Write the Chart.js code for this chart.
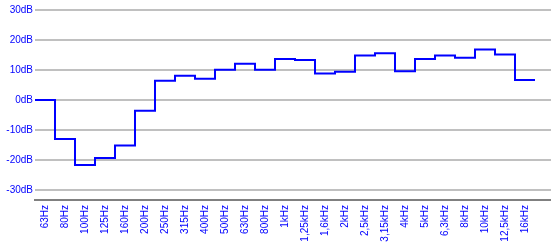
<!DOCTYPE html>
<html>
<head>
<meta charset="utf-8">
<script src="https://cdn.jsdelivr.net/npm/chart.js@4"></script>
<style>
  html, body { margin: 0; padding: 0; background: #fff; }
  .wrap { width: 551px; height: 242px; }
</style>
</head>
<body>
<div class="wrap"><canvas id="eq" width="551" height="242"></canvas></div>
<script>
  // third-octave bands
  var bands = ["63Hz", "80Hz", "100Hz", "125Hz", "160Hz", "200Hz", "250Hz", "315Hz", "400Hz",
    "500Hz", "630Hz", "800Hz", "1kHz", "1,25kHz", "1,6kHz", "2kHz", "2,5kHz", "3,15kHz",
    "4kHz", "5kHz", "6,3kHz", "8kHz", "10kHz", "12,5kHz", "16kHz"];
  // level per band, dB
  var levels = [0, -13, -21.7, -19.3, -15.2, -3.6, 6.4, 8.1, 7.1,
    10.1, 12.1, 10.1, 13.7, 13.3, 8.8, 9.4, 14.8, 15.6,
    9.6, 13.7, 14.8, 14.1, 16.8, 15.2, 6.7];
  var yTicks = [-30, -20, -10, 0, 10, 20, 30];

  // each band is a flat step from i-0.5 to i+0.5
  var pts = levels.map(function (v, i) { return { x: i - 0.5, y: v }; });
  pts.push({ x: levels.length - 0.5, y: levels[levels.length - 1] });

  var blue = "#0000ff";
  var font = { family: "'Liberation Sans', Arial, sans-serif", size: 10 };

  new Chart(document.getElementById("eq"), {
    type: "line",
    data: {
      datasets: [{
        data: pts,
        stepped: true,
        borderColor: blue,
        borderWidth: 2,
        pointRadius: 0,
        fill: false
      }]
    },
    options: {
      responsive: false,
      animation: false,
      layout: { padding: 0 },
      plugins: { legend: { display: false }, tooltip: { enabled: false } },
      scales: {
        x: {
          type: "linear",
          min: -0.5,
          max: 25.3,
          afterBuildTicks: function (scale) {
            scale.ticks = bands.map(function (b, i) { return { value: i }; });
          },
          afterFit: function (scale) {
            scale.height = 42;
            scale.paddingLeft = 0;
            scale.paddingRight = 0;
          },
          grid: { display: false, drawTicks: false },
          border: { display: true, color: "#808080", width: 2 },
          ticks: {
            autoSkip: false,
            minRotation: 90,
            maxRotation: 90,
            padding: 5,
            color: blue,
            font: font,
            callback: function (v) { return bands[v]; }
          }
        },
        y: {
          min: -33.333,
          max: 33.333,
          afterBuildTicks: function (scale) {
            scale.ticks = yTicks.map(function (v) { return { value: v }; });
          },
          afterFit: function (scale) {
            scale.width = 35;
            scale.paddingTop = 0;
            scale.paddingBottom = 0;
          },
          grid: { color: "#c0c0c0", lineWidth: 2, drawTicks: false },
          border: { display: false },
          ticks: {
            padding: 2,
            color: blue,
            font: font,
            callback: function (v) { return v + "dB"; }
          }
        }
      }
    }
  });
</script>
</body>
</html>
